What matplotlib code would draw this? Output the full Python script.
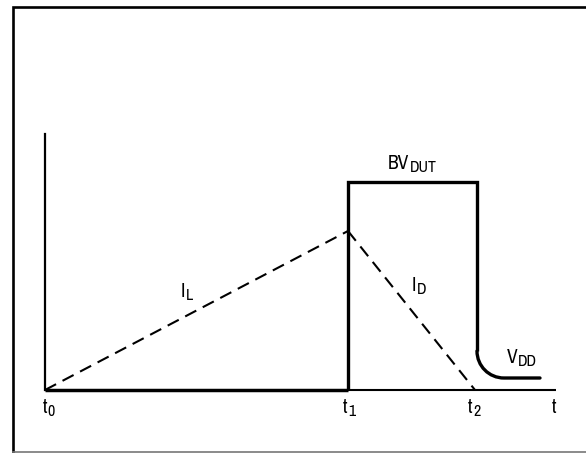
import matplotlib
matplotlib.use("Agg")
import matplotlib.pyplot as plt
from matplotlib import font_manager
from matplotlib.path import Path
from matplotlib.patches import PathPatch

# use a condensed face when one is installed
narrow = [f.name for f in font_manager.fontManager.ttflist
          if 'Narrow' in f.name or 'Condensed' in f.name or f.stretch in ('condensed', 'semi-condensed')]
families = sorted(set(narrow)) + ['Liberation Sans', 'DejaVu Sans']
plt.rcParams['font.family'] = families
plt.rcParams['font.stretch'] = 'condensed'

# time markers (horizontal units) and signal levels (vertical units)
t_marks = [45, 348, 475, 556]          # t0, t1, t2, end of t axis
t_subs = ["0", "1", "2", ""]
base = 63                               # zero level
axis_top = 319                          # top of vertical axis
i_peak = 222                            # peak inductor current at t1
bv_level = 271                          # BV_DUT clamp level
vdd_level = 75                          # V_DD level after t2
vdd_end = 540

fig = plt.figure(figsize=(5.86, 4.53), dpi=100)
ax = fig.add_axes([0, 0, 1, 1])
ax.set_xlim(0, 586)
ax.set_ylim(0, 453)
ax.axis('off')

t0, t1, t2, tend = t_marks

# outer frame (open on the right)
ax.plot([586, 13, 13], [446, 446, 1], color='black', lw=1.9, solid_joinstyle='miter')
ax.plot([13, 586], [1, 1], color='#777777', lw=1.2)

# axes
ax.plot([t0, t0], [base, axis_top], color='black', lw=1.6)
ax.plot([t0, t1], [base, base], color='black', lw=2.5, solid_capstyle='butt')
ax.plot([t1, tend], [base, base], color='black', lw=1.5, solid_capstyle='butt')

# BV_DUT pulse, then rounded fall to V_DD
xv = t2 + 2
ax.plot([t1, t1, xv, xv], [base, bv_level, bv_level, vdd_level + 27],
        color='black', lw=2.4, solid_joinstyle='miter', solid_capstyle='butt')
verts = [(xv, vdd_level + 27), (xv, vdd_level + 12), (xv + 12, vdd_level), (xv + 27, vdd_level),
         (vdd_end, vdd_level)]
codes = [Path.MOVETO, Path.CURVE4, Path.CURVE4, Path.CURVE4, Path.LINETO]
ax.add_patch(PathPatch(Path(verts, codes), fill=False, lw=2.4, edgecolor='black',
                       capstyle='round'))

# currents (dashed)
ax.plot([t0, t1], [base, i_peak], color='black', lw=1.5, dashes=(6, 3.5))
ax.plot([t1, t2], [i_peak, base], color='black', lw=1.5, dashes=(6, 3.5))

fs = 14
fs_sub = 11.5


def label(x, y, main, sub):
    t = ax.text(x, y, main, fontsize=fs, ha='left', va='baseline')
    if sub:
        # subscript sits at the bottom of the main text box, a few px under its baseline
        ax.annotate(sub, xy=(1, 0), xycoords=t, xytext=(0.5, 0.5),
                    textcoords='offset pixels', fontsize=fs_sub, ha='left', va='baseline')


for x, s in zip([43, 343, 468, 552], t_subs):
    label(x, 40, "t", s)

label(181, 156, "I", "L")
label(412, 162, "I", "D")
label(388, 284, "BV", "DUT")
label(507, 90, "V", "DD")

fig.savefig("out.png", dpi=100)
